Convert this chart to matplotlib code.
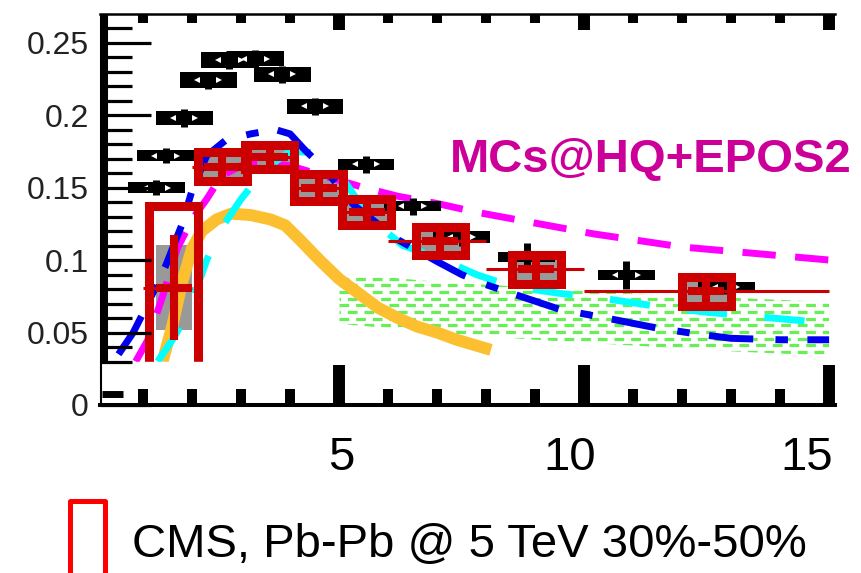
import numpy as np
import matplotlib
matplotlib.use("Agg")
import matplotlib.pyplot as plt
from matplotlib.patches import Rectangle
from matplotlib.ticker import FixedLocator
from matplotlib.transforms import blended_transform_factory

plt.rcParams["font.family"] = ["Liberation Sans", "DejaVu Sans"]
plt.rcParams["lines.scale_dashes"] = False

# CMS, Pb-Pb @ 5 TeV 30%-50% (red boxes)
cms_x = [1.63, 2.62, 3.59, 4.59, 5.57, 7.06, 9.02, 12.49]
cms_y = [0.081, 0.1645, 0.171, 0.150, 0.133, 0.113, 0.0938, 0.0786]
cms_stat = [0.036, 0.011, 0.009, 0.008, 0.010, 0.007, 0.010, 0.010]
cms_sys = [0.056, 0.0097, 0.0083, 0.009, 0.009, 0.0097, 0.010, 0.010]
cms_sys2 = [0.0295, 0.0095, 0.008, 0.0088, 0.0088, 0.0095, 0.0098, 0.0098]
cms_bin_lo = [1, 2, 3, 4, 5, 6, 8, 10]
cms_bin_hi = [2, 3, 4, 5, 6, 8, 10, 15]

# black points with black boxes
blk_x = [1.27, 1.46, 1.84, 2.33, 2.76, 3.29, 3.84, 4.51, 5.55, 6.5, 7.5, 8.83, 10.86, 12.9]
blk_y = [0.150, 0.172, 0.198, 0.224, 0.238, 0.239, 0.228, 0.206, 0.166, 0.137, 0.116, 0.102, 0.0895, 0.0815]
blk_stat = [0.005, 0.005, 0.006, 0.006, 0.006, 0.006, 0.006, 0.006, 0.006, 0.006, 0.006, 0.010, 0.0095, 0.005]
blk_sys = [0.004, 0.004, 0.005, 0.0055, 0.0055, 0.0055, 0.005, 0.005, 0.004, 0.0035, 0.004, 0.0035, 0.0035, 0.0035]

# MC@sHQ+EPOS2 curves
blue_x = [0.5, 0.8, 1.1, 1.45, 1.8, 2.0, 2.3, 2.7, 3.2, 3.7, 4.0, 4.3, 4.7, 5.3, 6.2, 7.0, 7.5,
          8.0, 8.7, 9.5, 10.6, 11.5, 12.3, 13.0, 14.0, 15.0]
blue_y = [0.035, 0.05, 0.07, 0.095, 0.125, 0.148, 0.172, 0.183, 0.187, 0.190, 0.187, 0.176, 0.163,
          0.138, 0.114, 0.099, 0.090, 0.083, 0.075, 0.066, 0.059, 0.053, 0.049, 0.046, 0.045, 0.045]
magenta_x = [0.85, 1.1, 1.4, 1.7, 2.0, 2.3, 2.6, 3.0, 3.5, 4.0, 4.7, 5.5, 6.2, 7.0, 7.8, 8.6,
             9.4, 10.2, 11.0, 12.0, 13.0, 14.0, 15.0]
magenta_y = [0.03, 0.045, 0.075, 0.108, 0.128, 0.142, 0.158, 0.165, 0.167, 0.165, 0.158, 0.150,
             0.144, 0.139, 0.133, 0.128, 0.123, 0.118, 0.114, 0.109, 0.106, 0.103, 0.100]
cyan_x = [1.3, 1.6, 1.9, 2.3, 2.6, 3.0, 3.5, 4.0, 4.5, 4.9, 5.3, 5.8, 6.3, 7.0, 7.8, 8.5, 9.5,
          10.5, 11.5, 12.5, 13.5, 14.5, 15.0]
cyan_y = [0.03, 0.045, 0.062, 0.100, 0.122, 0.142, 0.163, 0.175, 0.174, 0.165, 0.145, 0.124,
          0.110, 0.102, 0.090, 0.082, 0.077, 0.073, 0.068, 0.064, 0.061, 0.058, 0.057]
orange_x = [1.4, 1.6, 1.8, 2.0, 2.2, 2.5, 2.8, 3.2, 3.6, 3.9, 4.2, 4.6, 5.0, 5.4, 5.8, 6.2, 6.6,
            7.0, 7.4, 7.8, 8.1]
orange_y = [0.03, 0.055, 0.085, 0.108, 0.120, 0.128, 0.132, 0.131, 0.128, 0.124, 0.114, 0.100,
            0.087, 0.077, 0.067, 0.060, 0.054, 0.050, 0.045, 0.041, 0.038]
green_x = [5.0, 7.0, 9.0, 11.0, 13.0, 15.0]
green_lo = [0.056, 0.050, 0.045, 0.041, 0.037, 0.034]
green_hi = [0.091, 0.085, 0.081, 0.077, 0.074, 0.071]

x_major = [5, 10, 15]
x_minor = [1, 2, 3, 4, 6, 7, 8, 9, 11, 12, 13, 14]
x_labels = ["5", "10", "15"]
x_label_at = [5.05, 9.7, 14.55]
y_major = [0, 0.05, 0.1, 0.15, 0.2, 0.25]
y_labels = ["0", "0.05", "0.1", "0.15", "0.2", "0.25"]
y_minor = [0.03, 0.04, 0.06, 0.07, 0.08, 0.09, 0.11, 0.12, 0.13, 0.14, 0.16, 0.17, 0.18, 0.19,
           0.21, 0.22, 0.23, 0.24, 0.26]

RED = "#cc0000"

fig = plt.figure(figsize=(8.61, 5.73), dpi=100)
ax = fig.add_axes([100 / 861, 168 / 573, 735 / 861, 391 / 573])
ax.set_xlim(0.122, 15.12)
ax.set_ylim(0, 0.2697)

# green hatched band (dashed rows clipped to the band)
band = ax.fill_between(green_x, green_lo, green_hi, facecolor="none", edgecolor="none")
band_path = band.get_paths()[0]
for i, yy in enumerate(np.arange(min(green_lo) - 0.002, max(green_hi) + 0.002, 0.0046)):
    ln, = ax.plot([green_x[0], green_x[-1]], [yy, yy], color="#66f055", lw=2.3,
                  ls=((i % 2) * 6, (7, 5)), zorder=1)
    ln.set_clip_path(band_path, ax.transData)

# gray inner boxes
cms_x_a = np.array(cms_x)
cms_y_a = np.array(cms_y)
gray_w = np.where(np.arange(len(cms_x)) == 0, 0.72, 0.95)
ax.bar(cms_x_a, 2 * np.array(cms_sys2), width=gray_w, bottom=cms_y_a - np.array(cms_sys2),
       color="#999999", zorder=1.5)

# theory curves
ax.plot(orange_x, orange_y, color="#fcbf30", lw=8.6, solid_capstyle="butt", zorder=2)
ax.plot(magenta_x, magenta_y, color="#ff00ff", lw=5, dashes=(24, 14), dash_capstyle="butt", zorder=3)
ax.plot(cyan_x, cyan_y, color="#00ffff", lw=5, dashes=(29, 27), dash_capstyle="butt", zorder=3)
ax.plot(blue_x, blue_y, color="#0000ee", lw=5, dashes=(32, 16, 9, 14), dash_capstyle="butt", zorder=3)

# black points
blk_x_a = np.array(blk_x)
blk_y_a = np.array(blk_y)
ax.bar(blk_x_a, 2 * np.array(blk_sys), width=1.16, bottom=blk_y_a - np.array(blk_sys),
       color="black", zorder=4)
ax.vlines(blk_x_a, blk_y_a - np.array(blk_stat), blk_y_a + np.array(blk_stat),
          color="black", lw=5, zorder=4)
ax.plot(blk_x_a - 0.23, blk_y_a, "<", color="white", ms=5, mew=0, zorder=4.1)
ax.plot(blk_x_a + 0.23, blk_y_a, ">", color="white", ms=5, mew=0, zorder=4.1)

# CMS red boxes and crosses
ax.hlines(cms_y_a, cms_bin_lo, cms_bin_hi, color=RED, lw=2.2, zorder=5)
ax.bar(cms_x_a, 2 * np.array(cms_sys), width=1.0, bottom=cms_y_a - np.array(cms_sys),
       fill=False, edgecolor=RED, linewidth=6.5, zorder=5)
ax.hlines(cms_y_a, cms_x_a - 0.37, cms_x_a + 0.37, color=RED, lw=5.8, zorder=6)
ax.vlines(cms_x_a, cms_y_a - np.array(cms_stat), cms_y_a + np.array(cms_stat),
          color=RED, lw=5.8, zorder=6)

# the picture is cut below 0.03
ax.add_patch(Rectangle((0.122, 0), 15.0, 0.03, color="white", zorder=10))

# frame and ticks
for side in ["left", "right", "top"]:
    ax.spines[side].set_visible(False)
ax.spines["bottom"].set_linewidth(2.9)
ax.spines["bottom"].set_zorder(12)
ax.xaxis.set_zorder(12)
ax.yaxis.set_zorder(12)

ax.set_xticks(x_major, labels=[])
ax.xaxis.set_minor_locator(FixedLocator(x_minor))
ax.tick_params(axis="x", which="major", direction="in", length=29, width=8.6, top=False)
ax.tick_params(axis="x", which="minor", direction="in", length=11.5, width=7.2, top=False)

ax.set_yticks(y_major, labels=y_labels)
ax.yaxis.set_minor_locator(FixedLocator(y_minor))
ax.tick_params(axis="y", which="major", direction="in", length=37, width=2.3, pad=8,
               labelsize=23, labelcolor="#222222")
ax.tick_params(axis="y", which="minor", direction="in", length=23, width=2.3)

top = ax.secondary_xaxis("top")
top.set_xticks(x_major, labels=[])
top.xaxis.set_minor_locator(FixedLocator(x_minor))
top.tick_params(which="major", direction="in", length=11.5, width=8.6)
top.tick_params(which="minor", direction="in", length=6.5, width=7.2)
top.spines["top"].set_linewidth(1.8)

ax_y = blended_transform_factory(ax.transAxes, ax.transData)
ax.plot([0.0054, 0.0054], [0.03, 0.2697], color="black", lw=5.8, transform=ax_y,
        solid_capstyle="butt", clip_on=False, zorder=13)
ax.plot([0.0014, 0.0014], [0, 0.03], color="black", lw=1.5, transform=ax_y,
        clip_on=False, zorder=13)
ax.plot([0.0027, 0.031], [0.0079, 0.0079], color="black", lw=5, transform=ax_y,
        solid_capstyle="butt", clip_on=False, zorder=13)

# x labels (placed like in the source image)
lab_tr = blended_transform_factory(ax.transData, fig.transFigure)
for xp, lab in zip(x_label_at, x_labels):
    ax.text(xp, 103 / 573, lab, transform=lab_tr, ha="center", va="baseline", fontsize=34)

fig.text(450 / 861, 401 / 573, "MCs@HQ+EPOS2", color="#cc0099", fontsize=34,
         fontweight="bold", ha="left", va="baseline")

# legend
fig.add_artist(Rectangle((69.5 / 861, -0.05), 35 / 861, 0.1765, transform=fig.transFigure,
                         fill=False, edgecolor="#ff0000", lw=3.6, joinstyle="round"))
fig.text(132 / 861, 16.5 / 573, "CMS, Pb-Pb @ 5 TeV 30%-50%", fontsize=34,
         ha="left", va="baseline")

fig.savefig("out.png", dpi=100)
